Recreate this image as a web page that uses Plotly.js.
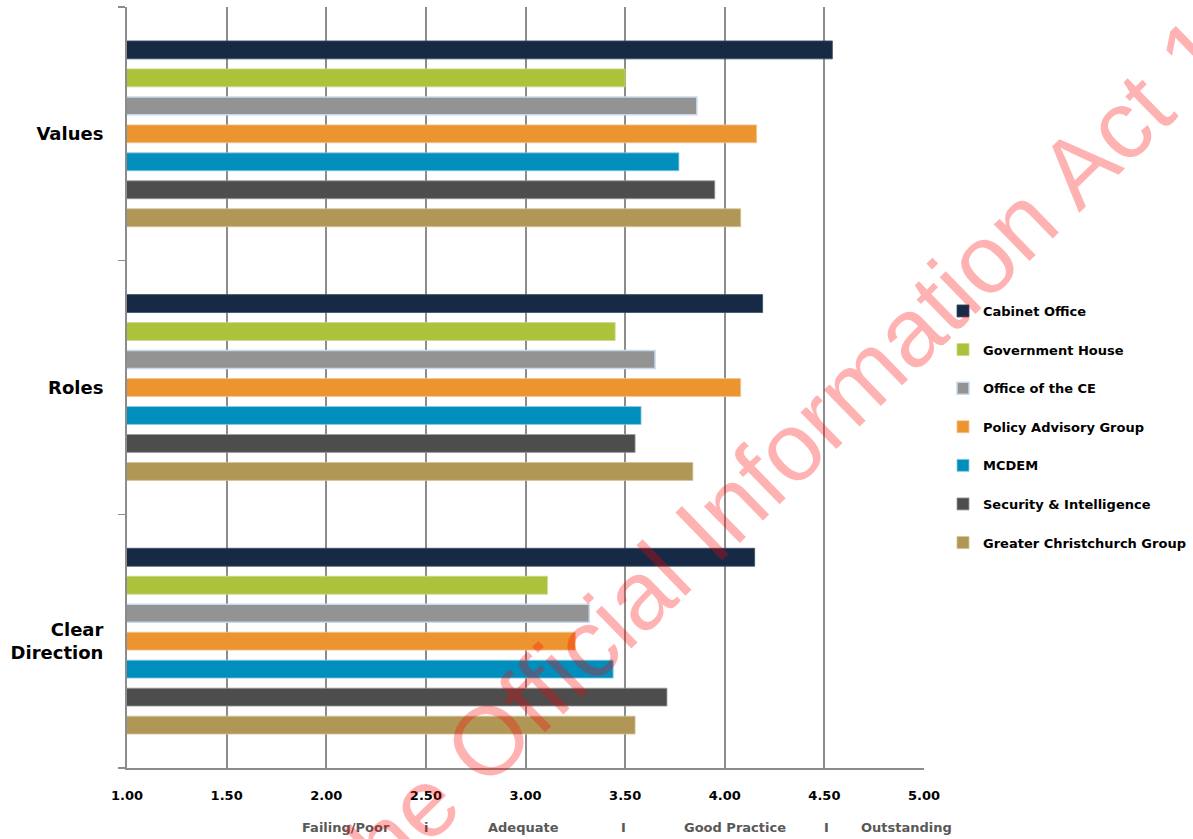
<!DOCTYPE html>
<html>
<head>
<meta charset="utf-8">
<script src="https://cdn.plot.ly/plotly-3.0.1.min.js"></script>
<style>html,body{margin:0;padding:0;background:#fff;}#chart{width:1193px;height:839px;}</style>
</head>
<body>
<div id="chart"></div>
<script>
// Categories (top to bottom)
const categories = ['Values', 'Roles', 'Clear Direction'];
const categoryLabels = ['Values', 'Roles', 'Clear<br>Direction'];

// Series values, in category order [Values, Roles, Clear Direction]
const seriesNames = ['Cabinet Office', 'Government House', 'Office of the CE', 'Policy Advisory Group', 'MCDEM', 'Security & Intelligence', 'Greater Christchurch Group'];
const cabinetOffice = [4.54, 4.19, 4.15];
const governmentHouse = [3.50, 3.45, 3.11];
const officeOfTheCE = [3.86, 3.65, 3.32];
const policyAdvisoryGroup = [4.16, 4.08, 3.25];
const mcdem = [3.77, 3.58, 3.44];
const securityIntelligence = [3.95, 3.55, 3.71];
const greaterChristchurch = [4.08, 3.84, 3.55];

// Rating scale text under the axis
const ratingLabels = ['Failing/Poor', 'i', 'Adequate', 'I', 'Good Practice', 'I', 'Outstanding'];
const watermarkText = 'Released under the Official Information Act 1982';

const seriesValues = [cabinetOffice, governmentHouse, officeOfTheCE, policyAdvisoryGroup, mcdem, securityIntelligence, greaterChristchurch];
const colors = ['#172a45', '#abc23a', '#939393', '#ec9530', '#008fbd', '#4d4d4d', '#b09756'];
const outlines = ['#3a4d66', '#c9d98a', '#c6d9ee', '#f2c48f', '#8cc9e3', '#9a9a9a', '#d4c49a'];

const traces = seriesNames.map((name, i) => ({
  type: 'bar',
  orientation: 'h',
  name: name,
  legendgroup: 'g' + i,
  x: seriesValues[i],
  y: categories,
  marker: { color: colors[i], line: { color: outlines[i], width: i === 2 ? 1.5 : 0.8 } },
  hoverinfo: 'x+name'
}));

const font = { family: 'DejaVu Sans', size: 13, color: '#000', weight: 'bold' };
const ratingX = [2.10, 2.50, 2.99, 3.49, 4.05, 4.51, 4.91];

const annotations = ratingLabels.map((t, i) => ({
  text: t, x: ratingX[i], xref: 'x', y: (768 - 827) / 761, yref: 'paper', showarrow: false,
  xanchor: 'center', yanchor: 'middle',
  font: { family: 'DejaVu Sans', size: 13, color: '#595959', weight: 'bold' }
}));

annotations.push({
  text: watermarkText, xref: 'paper', yref: 'paper',
  x: (582 - 127) / 797, y: (768 - 649) / 761,
  xanchor: 'center', yanchor: 'middle', showarrow: false,
  textangle: -44.2,
  font: { family: 'Liberation Sans', size: 97, color: 'rgba(255,0,0,0.3)' }
});

const layout = {
  width: 1193, height: 839,
  margin: { l: 127, r: 269, t: 7, b: 71, pad: 0, autoexpand: false },
  paper_bgcolor: '#fff', plot_bgcolor: '#fff',
  barmode: 'group',
  bargap: 0.228,
  bargroupgap: 0.36,
  showlegend: true,
  legend: {
    x: (943 - 127) / 797, xanchor: 'left',
    y: (768 - 427) / 761, yanchor: 'middle',
    traceorder: 'grouped',
    tracegroupgap: 18.7,
    font: font,
    bgcolor: 'rgba(0,0,0,0)'
  },
  xaxis: {
    range: [1, 5], tick0: 1, dtick: 0.5, tickformat: '.2f',
    showgrid: true, gridcolor: '#8c8c8c', gridwidth: 2,
    showline: true, linecolor: '#8c8c8c', linewidth: 2,
    zeroline: false, ticks: '',
    tickfont: font, ticklabelstandoff: 14,
    fixedrange: true
  },
  yaxis: {
    type: 'category', categoryorder: 'array', categoryarray: categories,
    autorange: 'reversed',
    tickvals: categories, ticktext: categoryLabels,
    tickson: 'boundaries', ticks: 'outside', ticklen: 7, tickcolor: '#8c8c8c', tickwidth: 1.5,
    showline: true, linecolor: '#8c8c8c', linewidth: 2,
    showgrid: false, zeroline: false,
    tickfont: { family: 'DejaVu Sans', size: 18, color: '#000', weight: 'bold' },
    ticklabelstandoff: 18,
    fixedrange: true
  },
  annotations: annotations
};

Plotly.newPlot('chart', traces, layout, { displayModeBar: false, staticPlot: true });
</script>
</body>
</html>
